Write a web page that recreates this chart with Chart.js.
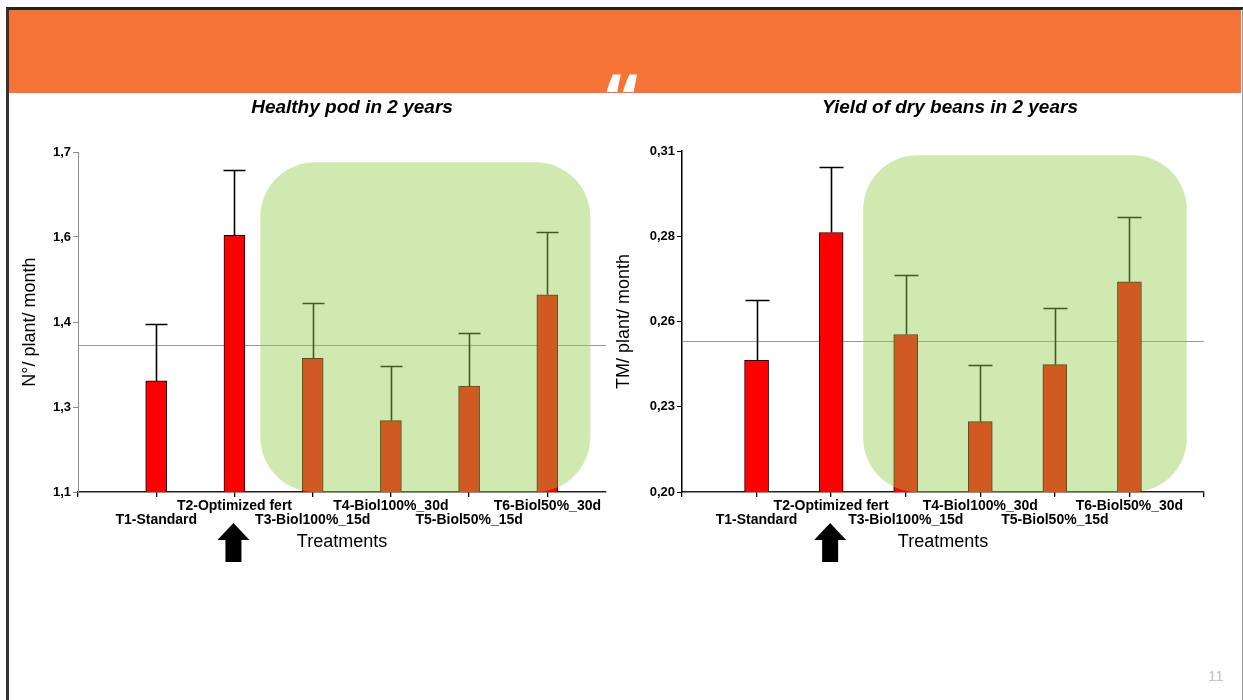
<!DOCTYPE html>
<html>
<head>
<meta charset="utf-8">
<script src="https://cdn.jsdelivr.net/npm/chart.js@4.4.0/dist/chart.umd.min.js"></script>
<style>
body { margin: 0; background: #fff; width: 1243px; height: 700px; overflow: hidden; position: relative; font-family: "Liberation Sans", Arial, sans-serif; }
#frame { position: absolute; left: 6px; top: 7px; width: 1233px; height: 700px; border-top: 3px solid #222; border-left: 3px solid #333; border-right: 2px solid #999; }
#header { position: absolute; left: 9px; top: 10px; width: 1232px; height: 83px; background: #F47335; }
#quote { position: absolute; left: 606px; top: 62px; color: #fff; font: bold 72px "Open Sans", sans-serif; line-height: 1; }
#page { position: absolute; left: 1208px; top: 667px; color: #c4c4c4; font-size: 15px; }
.panel { position: absolute; top: 95px; }
</style>
</head>
<body>
<div id="frame"></div>
<div id="header"></div>
<div id="quote">&ldquo;</div>
<div id="page">11</div>
<div class="panel" style="left:0px"><canvas id="podChart" width="620" height="480"></canvas></div>
<div class="panel" style="left:600px"><canvas id="beanChart" width="643" height="480"></canvas></div>
<script>
// treatments
var categories = ['T1-Standard', 'T2-Optimized fert', 'T3-Biol100%_15d', 'T4-Biol100%_30d', 'T5-Biol50%_15d', 'T6-Biol50%_30d'];

// healthy pods (N°/ plant/ month)
var podMeans = [1.296, 1.553, 1.336, 1.226, 1.287, 1.448];
var podSd = [0.100, 0.115, 0.097, 0.096, 0.094, 0.111];
var podRef = 1.359;
var podTicks = [1.1, 1.25, 1.4, 1.55, 1.7];
var podTickLabels = ['1,1', '1,3', '1,4', '1,6', '1,7'];

// dry beans (TM/ plant/ month)
var beanMeans = [0.2425, 0.2837, 0.2508, 0.2227, 0.2411, 0.2678];
var beanSd = [0.0193, 0.0213, 0.0193, 0.0182, 0.0182, 0.0210];
var beanRef = 0.2486;
var beanTicks = [0.2, 0.2275, 0.255, 0.2825, 0.31];
var beanTickLabels = ['0,20', '0,23', '0,26', '0,28', '0,31'];

var FONT = 'Liberation Sans';

var panelPlugin = {
    id: 'panel',
    beforeDatasetsDraw: function (chart, args, o) {
        var ctx = chart.ctx, a = chart.chartArea, y = chart.scales.y;
        var ry = Math.round(y.getPixelForValue(o.ref)) + 0.5;
        ctx.save();
        ctx.strokeStyle = '#9a9a9a';
        ctx.lineWidth = 1;
        ctx.beginPath();
        ctx.moveTo(a.left, ry);
        ctx.lineTo(a.right, ry);
        ctx.stroke();
        ctx.restore();
    },
    afterDatasetsDraw: function (chart, args, o) {
        var ctx = chart.ctx, a = chart.chartArea, x = chart.scales.x, y = chart.scales.y;
        ctx.save();
        // error bars (upper only)
        ctx.strokeStyle = '#000';
        ctx.lineWidth = 1.6;
        o.means.forEach(function (m, i) {
            var px = Math.round(x.getPixelForValue(i + 1)) + 0.5;
            var yb = y.getPixelForValue(m);
            var yt = Math.round(y.getPixelForValue(m + o.sd[i])) + 0.5;
            ctx.beginPath();
            ctx.moveTo(px, yb);
            ctx.lineTo(px, yt);
            ctx.moveTo(px - o.cap / 2, yt);
            ctx.lineTo(px + o.cap / 2, yt);
            ctx.stroke();
        });
        // translucent green highlight over the biol treatments
        var gx0 = x.getPixelForValue(o.box[0]), gx1 = x.getPixelForValue(o.box[1]);
        var gy0 = y.getPixelForValue(o.box[2]), gy1 = a.bottom;
        ctx.fillStyle = 'rgba(148,205,75,0.44)';
        ctx.beginPath();
        ctx.roundRect(gx0, gy0, gx1 - gx0, gy1 - gy0, o.radius);
        ctx.fill();
        ctx.restore();
    },
    afterDraw: function (chart, args, o) {
        var ctx = chart.ctx, a = chart.chartArea, x = chart.scales.x;
        ctx.save();
        // title
        ctx.fillStyle = '#000';
        ctx.font = 'italic bold 19px "' + FONT + '"';
        ctx.textAlign = 'center';
        ctx.textBaseline = 'middle';
        ctx.fillText(o.title, o.titleX, 13);
        // arrow under T2
        var cx = x.getPixelForValue(2) - 1, b = a.bottom;
        ctx.beginPath();
        ctx.moveTo(cx, b + 31);
        ctx.lineTo(cx + 16, b + 48);
        ctx.lineTo(cx + 8, b + 48);
        ctx.lineTo(cx + 8, b + 70);
        ctx.lineTo(cx - 8, b + 70);
        ctx.lineTo(cx - 8, b + 48);
        ctx.lineTo(cx - 16, b + 48);
        ctx.closePath();
        ctx.fill();
        ctx.restore();
    }
};

function drawPanel(id, means, sd, ref, ticks, tickLabels, opt) {
    var ctx = document.getElementById(id).getContext('2d');
    new Chart(ctx, {
        type: 'bar',
        data: {
            datasets: [{
                data: means.map(function (m, i) { return { x: i + 1, y: m }; }),
                backgroundColor: '#FF0000',
                borderColor: '#000',
                borderWidth: 1,
                barThickness: opt.barWidth
            }]
        },
        plugins: [panelPlugin],
        options: {
            responsive: false,
            animation: false,
            layout: { padding: { top: opt.top, right: opt.right, bottom: 3, left: 0 } },
            plugins: {
                legend: { display: false },
                tooltip: { enabled: false },
                panel: {
                    means: means, sd: sd, ref: ref, cap: opt.cap,
                    box: opt.box, radius: opt.radius,
                    title: opt.title, titleX: opt.titleX
                }
            },
            scales: {
                x: {
                    type: 'linear',
                    offset: false,
                    min: 0,
                    max: opt.xMax,
                    afterFit: function (s) { s.height = 80; },
                    afterBuildTicks: function (s) {
                        s.ticks = opt.xTicks.map(function (v) { return { value: v }; });
                    },
                    grid: { offset: false, drawOnChartArea: false, drawTicks: true, tickLength: 5, color: '#000', lineWidth: 1.3 },
                    border: { color: '#222', width: 1.5 },
                    ticks: {
                        autoSkip: false,
                        maxRotation: 0,
                        padding: 2,
                        color: '#000',
                        font: { family: FONT, size: 14, weight: 'bold', lineHeight: 1.0 },
                        callback: function (v) {
                            var c = categories[v - 1];
                            if (!c) return '';
                            return (v % 2 === 1) ? ['', c] : [c, ''];
                        }
                    },
                    title: {
                        display: true,
                        text: 'Treatments',
                        color: '#000',
                        font: { family: FONT, size: 18 },
                        padding: { top: 0, bottom: 19 }
                    }
                },
                y: {
                    min: ticks[0],
                    max: ticks[ticks.length - 1],
                    afterFit: function (s) { s.width = opt.yWidth; },
                    afterBuildTicks: function (s) {
                        s.ticks = ticks.map(function (v) { return { value: v }; });
                    },
                    grid: { drawOnChartArea: false, drawTicks: true, tickLength: 5, color: opt.yColor, lineWidth: 1 },
                    border: { color: opt.yColor, width: opt.yLine },
                    ticks: {
                        padding: 2,
                        color: '#000',
                        font: { family: FONT, size: 13, weight: 'bold' },
                        callback: function (v, i) { return tickLabels[i]; }
                    },
                    title: {
                        display: true,
                        text: opt.yTitle,
                        color: '#000',
                        font: { family: FONT, size: 18 },
                        padding: { top: opt.yTitlePad, bottom: 0 }
                    }
                }
            }
        }
    });
}

drawPanel('podChart', podMeans, podSd, podRef, podTicks, podTickLabels, {
    title: 'Healthy pod in 2 years', titleX: 352,
    yTitle: 'N°/ plant/ month', yTitlePad: 19,
    top: 57, right: 14, yWidth: 78, yColor: '#8a8a8a', yLine: 1,
    xMax: 6.75, xTicks: [0, 1, 2, 3, 4, 5, 6],
    barWidth: 21, cap: 22,
    box: [2.33, 6.55, 1.682], radius: 55
});

drawPanel('beanChart', beanMeans, beanSd, beanRef, beanTicks, beanTickLabels, {
    title: 'Yield of dry beans in 2 years', titleX: 350,
    yTitle: 'TM/ plant/ month', yTitlePad: 13,
    top: 56, right: 39, yWidth: 82, yColor: '#000', yLine: 1.5,
    xMax: 7, xTicks: [0, 1, 2, 3, 4, 5, 6, 7],
    barWidth: 24, cap: 24,
    box: [2.43, 6.77, 0.3086], radius: 54
});
</script>
</body>
</html>
